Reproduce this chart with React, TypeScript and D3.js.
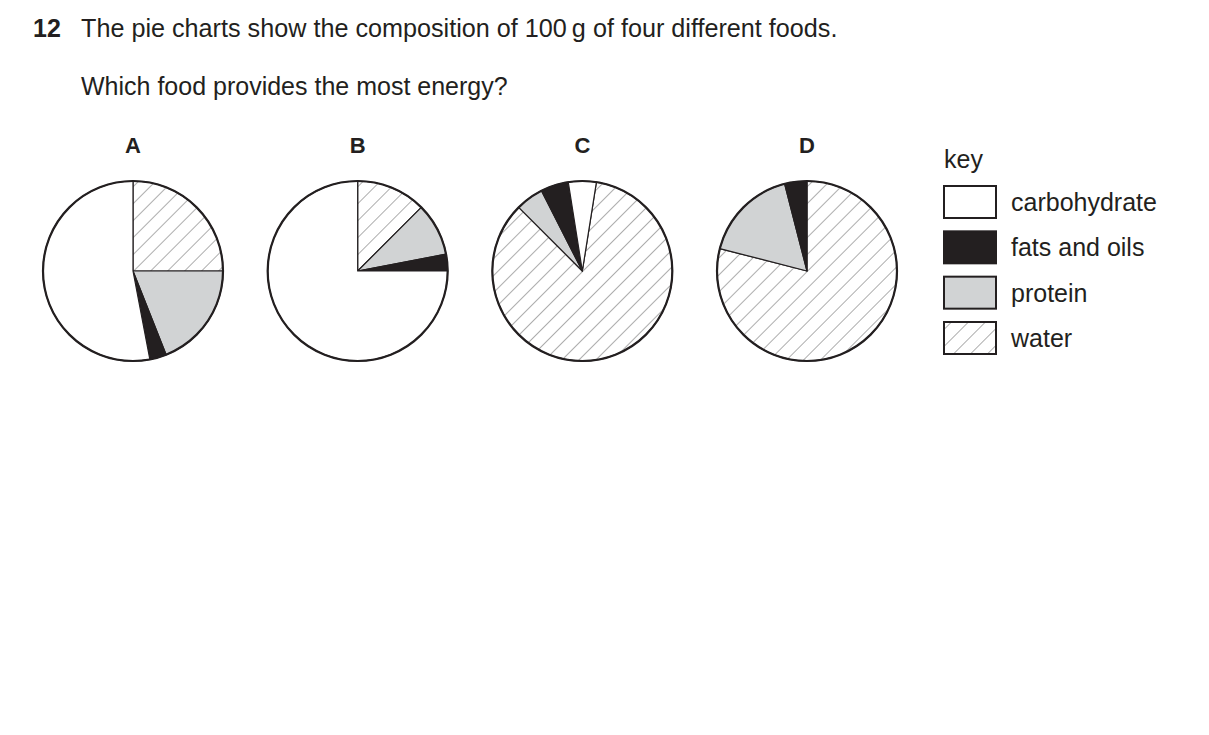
import React from 'react';
import * as d3 from 'd3';

// ---- data ----
const foods = ['A', 'B', 'C', 'D'];
const water = [25, 12.5, 85, 79];
const protein = [19, 9.5, 5, 17];
const fats = [3, 3, 5, 4];
const carbohydrate = [53, 75, 5, 0];
const pieRotationDeg = [0, 0, 9, 0];
const legendItems = ['carbohydrate', 'fats and oils', 'protein', 'water'];

const questionNumber = '12';
const questionLine1 = 'The pie charts show the composition of 100\u2009g of four different foods.';
const questionLine2 = 'Which food provides the most energy?';
const keyTitle = 'key';

const W = 1209;
const H = 735;
const FONT = '"Liberation Sans", Arial, Helvetica, sans-serif';
const INK = '#231f20';

const fillFor: Record<string, string> = {
  water: 'url(#hatch)',
  protein: '#d1d3d4',
  'fats and oils': '#231f20',
  carbohydrate: '#ffffff',
};

export default function App() {
  const radius = 90;
  const cy = 271;
  const x = d3.scalePoint<string>().domain(foods).range([133, 807]);
  const legendY = d3.scalePoint<string>().domain(legendItems).range([186, 322]);

  const arc = d3.arc<d3.PieArcDatum<{ key: string; value: number }>>().innerRadius(0).outerRadius(radius);

  return (
    <svg
      width={W}
      height={H}
      style={{ position: 'absolute', left: 0, top: 0, background: '#fff', fontFamily: FONT }}
    >
      <defs>
        <pattern id="hatch" patternUnits="userSpaceOnUse" width={12} height={12} patternTransform="rotate(45)">
          <rect width={12} height={12} fill="#fff" />
          <line x1={0} y1={0} x2={0} y2={12} stroke="#4a4a4a" strokeWidth={0.9} />
        </pattern>
      </defs>
      <rect width={W} height={H} fill="#fff" />

      <text x={33} y={37} fontSize={25} fontWeight="bold" fill={INK}>{questionNumber}</text>
      <text x={81} y={37} fontSize={25.2} fill={INK}>{questionLine1}</text>
      <text x={81} y={95} fontSize={25} fill={INK}>{questionLine2}</text>

      {foods.map((f, i) => {
        const rows = [
          { key: 'water', value: water[i] },
          { key: 'protein', value: protein[i] },
          { key: 'fats and oils', value: fats[i] },
          { key: 'carbohydrate', value: carbohydrate[i] },
        ];
        const start = (pieRotationDeg[i] * Math.PI) / 180;
        const pie = d3
          .pie<{ key: string; value: number }>()
          .value((d) => d.value)
          .sort(null)
          .startAngle(start)
          .endAngle(start + 2 * Math.PI);
        const arcs = pie(rows);
        const cx = x(f)!;
        return (
          <g key={f}>
            <text x={cx} y={153} fontSize={22} fontWeight="bold" textAnchor="middle" fill={INK}>{f}</text>
            <g transform={`translate(${cx},${cy})`}>
              {arcs
                .filter((a) => a.data.value > 0)
                .map((a) => (
                  <path
                    key={a.data.key}
                    d={arc(a) || ''}
                    fill={fillFor[a.data.key]}
                    stroke={INK}
                    strokeWidth={1.2}
                    strokeLinejoin="round"
                  />
                ))}
              <circle r={radius} fill="none" stroke={INK} strokeWidth={2.2} />
            </g>
          </g>
        );
      })}

      <text x={944} y={168} fontSize={25} fill={INK}>{keyTitle}</text>
      {legendItems.map((k) => {
        const y = legendY(k)!;
        return (
          <g key={k}>
            <rect x={944} y={y} width={52} height={32} fill={fillFor[k]} stroke={INK} strokeWidth={2} />
            <text x={1011} y={y + 25} fontSize={25} fill={INK}>{k}</text>
          </g>
        );
      })}
    </svg>
  );
}
